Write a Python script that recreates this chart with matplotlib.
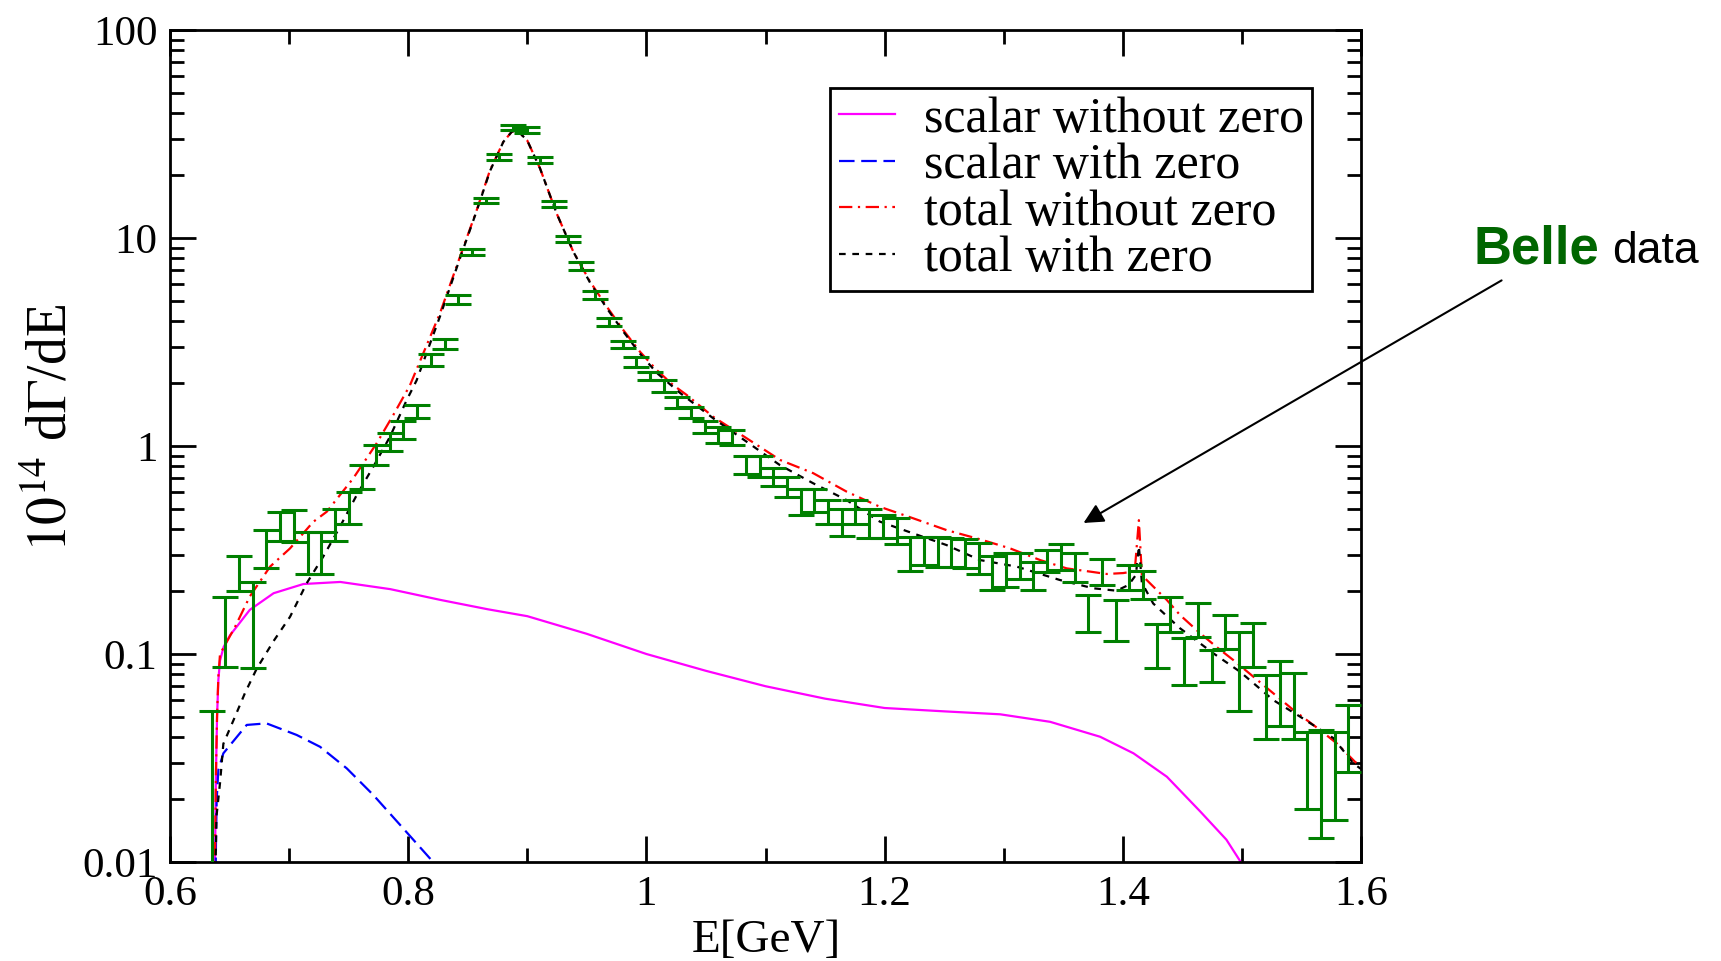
import matplotlib
matplotlib.use("Agg")
import matplotlib.pyplot as plt
from matplotlib.ticker import LogLocator, NullFormatter, MultipleLocator

plt.rcParams['font.family'] = ['Liberation Serif', 'DejaVu Serif']
plt.rcParams['mathtext.fontset'] = 'stix'

# ---------------------------------------------------------------------------
# Belle data: bin centres [GeV], 10^14 dGamma/dE and its error
# ---------------------------------------------------------------------------
belle_E = [0.635, 0.6465, 0.658, 0.6695, 0.681, 0.6925, 0.704, 0.7155, 0.727, 0.7385,
           0.750, 0.7615, 0.773, 0.7845, 0.796, 0.8075, 0.819, 0.8305, 0.842, 0.8535,
           0.865, 0.8765, 0.888, 0.8995, 0.911, 0.9225, 0.934, 0.9455, 0.957, 0.9685,
           0.980, 0.9915, 1.003, 1.0145, 1.026, 1.0375, 1.049, 1.0605, 1.072, 1.0835,
           1.095, 1.1065, 1.118, 1.1295, 1.141, 1.1525, 1.164, 1.1755, 1.187, 1.1985,
           1.210, 1.2215, 1.233, 1.2445, 1.256, 1.2675, 1.279, 1.2905, 1.302, 1.3135,
           1.325, 1.3365, 1.348, 1.3595, 1.371, 1.3825, 1.394, 1.4055, 1.417, 1.4285,
           1.440, 1.4515, 1.463, 1.4745, 1.486, 1.4975, 1.509, 1.5205, 1.532, 1.5435,
           1.555, 1.5665, 1.578, 1.5895]
belle_val = [0.026, 0.137, 0.248, 0.154, 0.326, 0.415, 0.420, 0.315, 0.315, 0.423,
             0.510, 0.715, 0.910, 1.05, 1.20, 1.47, 2.60, 3.10, 5.06, 8.60,
             15.1, 24.5, 34.0, 33.0, 23.7, 14.6, 9.90, 7.33, 5.32, 3.95,
             3.07, 2.55, 2.18, 1.95, 1.62, 1.447, 1.237, 1.137, 1.10, 0.815,
             0.800, 0.710, 0.637, 0.543, 0.551, 0.486, 0.434, 0.486, 0.428, 0.413,
             0.393, 0.309, 0.317, 0.3145, 0.3115, 0.307, 0.291, 0.249, 0.257, 0.267,
             0.240, 0.282, 0.295, 0.264, 0.160, 0.250, 0.149, 0.235, 0.217, 0.113,
             0.157, 0.095, 0.148, 0.089, 0.130, 0.090, 0.114, 0.059, 0.069, 0.060,
             0.030, 0.028, 0.029, 0.042]
belle_err = [0.027, 0.0505, 0.048, 0.068, 0.068, 0.067, 0.075, 0.072, 0.072, 0.075,
             0.088, 0.095, 0.100, 0.100, 0.120, 0.110, 0.170, 0.160, 0.240, 0.270,
             0.40, 0.80, 1.00, 1.00, 0.75, 0.45, 0.30, 0.31, 0.24, 0.16,
             0.12, 0.14, 0.10, 0.13, 0.10, 0.088, 0.086, 0.100, 0.093, 0.080,
             0.094, 0.070, 0.070, 0.077, 0.068, 0.064, 0.063, 0.064, 0.068, 0.053,
             0.056, 0.057, 0.049, 0.0515, 0.0485, 0.049, 0.049, 0.047, 0.048, 0.038,
             0.038, 0.034, 0.042, 0.041, 0.033, 0.035, 0.033, 0.033, 0.034, 0.027,
             0.030, 0.024, 0.027, 0.016, 0.024, 0.037, 0.027, 0.020, 0.024, 0.021,
             0.012, 0.015, 0.013, 0.015]

# ---------------------------------------------------------------------------
# Model curves
# ---------------------------------------------------------------------------
scalar_nz_E = [0.6373, 0.6378, 0.6385, 0.6395, 0.6406, 0.642, 0.645, 0.6504, 0.667, 0.687,
               0.712, 0.743, 0.785, 0.827, 0.867, 0.90, 0.95, 1.00, 1.05, 1.10,
               1.15, 1.20, 1.25, 1.297, 1.339, 1.381, 1.409, 1.437, 1.465, 1.487, 1.50]
scalar_nz = [0.003, 0.01, 0.025, 0.05, 0.075, 0.093, 0.108, 0.123, 0.163, 0.196,
             0.217, 0.222, 0.205, 0.182, 0.164, 0.152, 0.125, 0.10, 0.083, 0.070,
             0.061, 0.055, 0.053, 0.0513, 0.0472, 0.040, 0.0333, 0.0257, 0.0175, 0.0128, 0.0098]

scalar_z_E = [0.6373, 0.6386, 0.6392, 0.6406, 0.6448, 0.6644, 0.681, 0.7064, 0.726, 0.7484,
              0.7707, 0.7931, 0.8183, 0.822]
scalar_z = [0.002, 0.0123, 0.0199, 0.0277, 0.0333, 0.0456, 0.0464, 0.0408, 0.0358, 0.0282,
            0.021, 0.0151, 0.0104, 0.0098]

total_nz_E = [0.6373, 0.6378, 0.6385, 0.6395, 0.6406, 0.642, 0.6546, 0.667, 0.684, 0.7008,
              0.7203, 0.7316, 0.7539, 0.7735, 0.7875, 0.8015, 0.8267, 0.8435, 0.8575, 0.8687,
              0.8799, 0.8869, 0.891, 0.8939, 0.900, 0.9107, 0.9247, 0.9386, 0.9527, 0.9667,
              0.9806, 0.9946, 1.0086, 1.0226, 1.0338, 1.0562, 1.0842, 1.1122, 1.1401, 1.1682,
              1.1961, 1.2241, 1.2521, 1.2801, 1.3053, 1.3305, 1.3529, 1.3724, 1.3865, 1.4004,
              1.410, 1.4135, 1.416, 1.420, 1.4369, 1.448, 1.4648, 1.4788, 1.4928, 1.5096,
              1.5264, 1.5432, 1.5656, 1.5796, 1.595, 1.600]
total_nz = [0.003, 0.01, 0.025, 0.05, 0.078, 0.1, 0.135, 0.189, 0.263, 0.322,
            0.432, 0.483, 0.70, 1.03, 1.41, 1.96, 4.35, 8.13, 13.6, 21.2,
            29.0, 32.4, 33.0, 31.9, 29.4, 21.6, 13.1, 8.6, 6.17, 4.68,
            3.61, 2.84, 2.32, 1.96, 1.76, 1.38, 1.089, 0.857, 0.74, 0.603,
            0.51, 0.449, 0.394, 0.356, 0.322, 0.283, 0.258, 0.249, 0.2425, 0.245,
            0.25, 0.44, 0.24, 0.227, 0.182, 0.154, 0.126, 0.108, 0.0935, 0.0778,
            0.0647, 0.0538, 0.0431, 0.0372, 0.0303, 0.029]

total_z_E = [0.6373, 0.638, 0.639, 0.642, 0.6448, 0.6546, 0.663, 0.6728, 0.6868, 0.7008,
             0.7148, 0.7287, 0.7427, 0.7568, 0.7707, 0.7847, 0.7987, 0.8071, 0.8267, 0.8435,
             0.8575, 0.8687, 0.8799, 0.8869, 0.891, 0.8939, 0.900, 0.9107, 0.9247, 0.9386,
             0.9527, 0.9667, 0.9806, 0.9946, 1.0086, 1.0282, 1.056, 1.084, 1.112, 1.140,
             1.168, 1.196, 1.224, 1.252, 1.280, 1.311, 1.347, 1.3752, 1.3948, 1.405,
             1.411, 1.4135, 1.416, 1.4255, 1.448, 1.476, 1.4984, 1.5264, 1.5488, 1.5768,
             1.5936, 1.600]
total_z = [0.002, 0.008, 0.0165, 0.024, 0.037, 0.05, 0.065, 0.085, 0.115, 0.151,
           0.219, 0.294, 0.409, 0.581, 0.795, 1.108, 1.66, 2.07, 4.2, 8.0,
           13.5, 21.0, 29.0, 32.4, 33.0, 31.9, 29.4, 21.6, 13.1, 8.6,
           6.1, 4.6, 3.55, 2.78, 2.25, 1.80, 1.36, 1.05, 0.81, 0.662,
           0.55, 0.433, 0.380, 0.334, 0.283, 0.263, 0.227, 0.207, 0.2015, 0.215,
           0.24, 0.33, 0.22, 0.175, 0.133, 0.1008, 0.0822, 0.060, 0.050, 0.0394,
           0.0298, 0.028]

y_ticks = [0.01, 0.1, 1, 10, 100]
y_ticklabels = ['0.01', '0.1', '1', '10', '100']
x_ticks = [0.6, 0.8, 1.0, 1.2, 1.4, 1.6]
x_ticklabels = ['0.6', '0.8', '1', '1.2', '1.4', '1.6']

# ---------------------------------------------------------------------------
# Figure
# ---------------------------------------------------------------------------
fig = plt.figure(figsize=(17.21, 9.61), dpi=100)
ax = fig.add_axes([170 / 1721, 99 / 961, 1191 / 1721, 832 / 961])

lw = 1.6
ax.plot(scalar_nz_E, scalar_nz, color='#ff00ff', lw=lw, ls='-', label='scalar without zero')
ax.plot(scalar_z_E, scalar_z, color='#0000ff', lw=lw, ls=(0, (7, 3)), label='scalar with zero')
ax.plot(total_nz_E, total_nz, color='#ff0000', lw=lw, ls=(0, (6, 2.5, 1, 2.5)), label='total without zero')
ax.plot(total_z_E, total_z, color='black', lw=lw, ls=(0, (3, 3)), label='total with zero')

ax.errorbar(belle_E, belle_val, yerr=belle_err, fmt='none', ecolor='#008000',
            elinewidth=2.2, capsize=9.5, capthick=2.2, zorder=5)

ax.set_yscale('log')
ax.set_xlim(0.6, 1.6)
ax.set_ylim(0.01, 100)

ax.set_xticks(x_ticks)
ax.set_xticklabels(x_ticklabels)
ax.xaxis.set_minor_locator(MultipleLocator(0.1))
ax.set_yticks(y_ticks)
ax.set_yticklabels(y_ticklabels)
ax.yaxis.set_minor_locator(LogLocator(base=10, subs=range(2, 10)))
ax.yaxis.set_minor_formatter(NullFormatter())

ax.tick_params(which='both', direction='in', top=True, right=True, width=2)
ax.tick_params(which='major', length=18.5, labelsize=31)
ax.tick_params(which='minor', length=10)
ax.tick_params(axis='x', which='major', pad=10)
ax.tick_params(axis='y', which='major', pad=9)
for sp in ax.spines.values():
    sp.set_linewidth(2)

fig.text(0.4451, 0.021, 'E[GeV]', fontsize=34, ha='center', va='center')
fig.text(0.0306, 0.5546, r'$10^{14}$ d$\Gamma$/dE', fontsize=40,
         rotation=90, ha='center', va='center')

leg = ax.legend(loc='upper right', bbox_to_anchor=(0.9589, 0.9303), borderaxespad=0,
                fontsize=36, handlelength=1.12, handletextpad=0.58, labelspacing=0.0,
                borderpad=0.17, fancybox=False, framealpha=1, edgecolor='black')
leg.get_frame().set_linewidth(2)

# "Belle data" annotation outside the axes
fig.text(0.8559, 0.7263, 'Belle', fontsize=38, fontweight='bold', color='#006600',
         family='Liberation Sans', ha='left', va='baseline')
fig.text(0.9367, 0.7263, 'data', fontsize=32, color='black',
         family='Liberation Sans', ha='left', va='baseline')
ax.annotate('', xy=(1.365, 0.42), xycoords='data',
            xytext=(1504 / 1721, 1 - 279 / 961), textcoords='figure fraction',
            arrowprops=dict(arrowstyle='-|>', color='black', lw=1.5, mutation_scale=30),
            annotation_clip=False)

fig.savefig('out.png', dpi=100)
